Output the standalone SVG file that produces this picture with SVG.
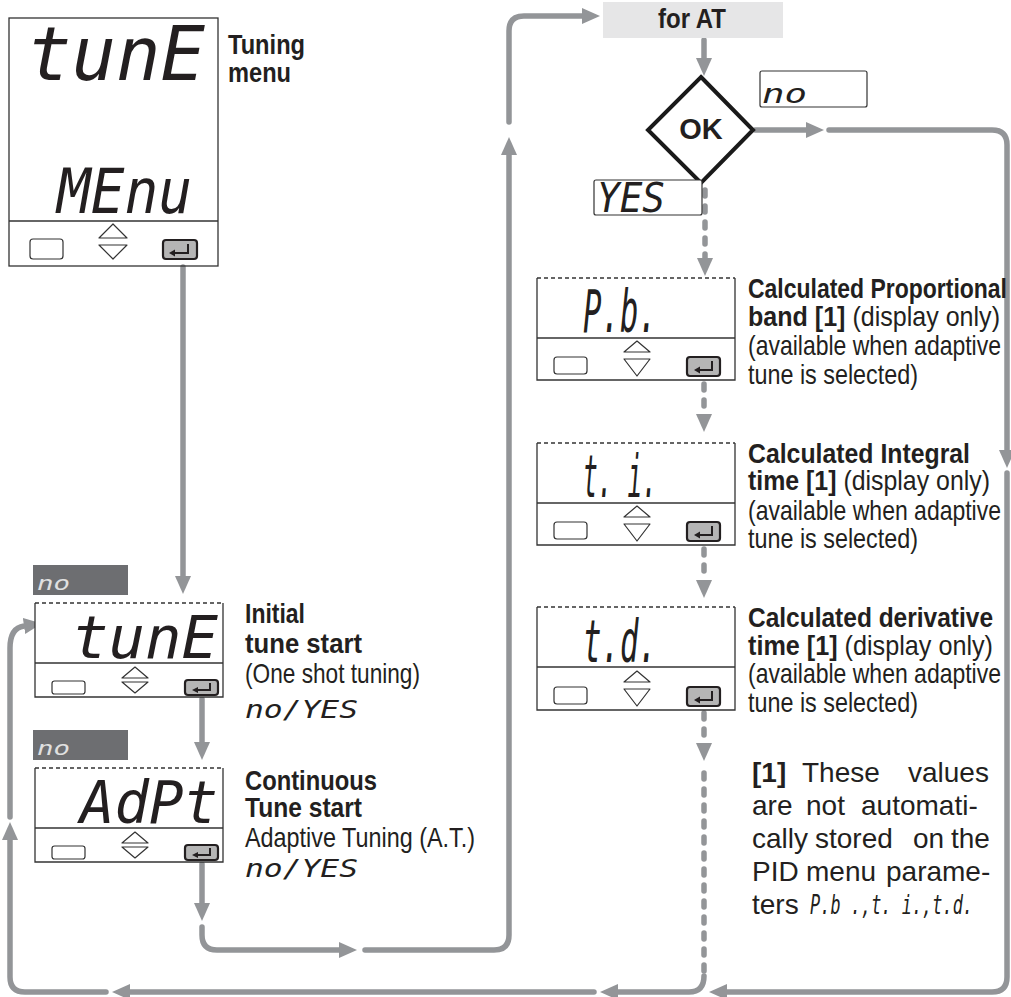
<svg xmlns="http://www.w3.org/2000/svg" width="1011" height="997" viewBox="0 0 1011 997">
<style>
.lcd{font-family:"DejaVu Sans Mono","Liberation Mono",monospace;font-style:oblique;fill:#231f20}
.nb{font-family:"Liberation Sans Narrow","Liberation Sans",Arial,sans-serif;font-weight:bold;font-size:28px;fill:#231f20}
.nr{font-family:"Liberation Sans Narrow","Liberation Sans",Arial,sans-serif;font-weight:normal;font-size:28px;fill:#231f20}
.fn{font-family:"Liberation Sans",Arial,sans-serif;font-size:28px;fill:#231f20}
.ln{fill:none;stroke:#333;stroke-width:1.3}
.dsh{stroke-dasharray:4 3}
.btn{fill:#fff;stroke:#333;stroke-width:1.2}
.ent{fill:#b5b5b5;stroke:#231f20;stroke-width:2.2}
.ico{fill:none;stroke:#231f20;stroke-width:2}
.tri{fill:#fff;stroke:#333;stroke-width:1.2;stroke-linejoin:round}
.c{fill:none;stroke:#939598;stroke-width:5.5;stroke-linecap:round;marker-end:url(#ah)}
.cn{fill:none;stroke:#939598;stroke-width:5.5;stroke-linecap:round}
.cd{stroke-dasharray:6 10}
</style>
<defs>
<marker id="ah" markerUnits="userSpaceOnUse" markerWidth="18" markerHeight="16" refX="0" refY="8" orient="auto" viewBox="0 0 18 16"><path d="M0,0 L18,8 L0,16 z" fill="#939598"/></marker>
</defs>

<g id="connectors">
<path class="c" d="M183,267 V576"/>
<path class="c" d="M202,699 V742"/>
<path class="c" d="M202,864 V903"/>
<path class="c" d="M202,927 V935 Q202,950 217,950 H339"/>
<path class="c" d="M365,950 H494 Q509,950 509,935 V155"/>
<path class="c" d="M509,122 V31 Q509,16 524,16 H582"/>
<path class="c" d="M704,40 V58"/>
<path class="c" d="M755,130 H806"/>
<path class="c" d="M829,130 H992 Q1007,130 1007,145 V450"/>
<path class="c" d="M1007,473 V977 Q1007,992 992,992 H727"/>
<path class="c cd" d="M705,190 V258"/>
<path class="c cd" d="M704,384 V414"/>
<path class="c cd" d="M704,549 V580"/>
<path class="c cd" d="M704,713 V743"/>
<path class="cn cd" d="M704,773 V975"/>
<path class="c" d="M704,976 Q704,992 689,992 H618"/>
<path class="c" d="M594,992 H130"/>
<path class="c" d="M106,992 H25 Q10,992 10,977 V840"/>
<path class="c" d="M10,817 V648 Q10,628 24,626"/>
</g>

<g id="tuning-menu">
<rect x="9" y="18" width="209" height="248" fill="#ebebeb" class="ln"/>
<path class="ln" d="M9,221 H218"/>
<text class="lcd" x="27" y="80" font-size="75" textLength="178" lengthAdjust="spacingAndGlyphs">tunE</text>
<text class="lcd" x="57" y="213" font-size="62" textLength="135" lengthAdjust="spacingAndGlyphs">MEnu</text>
<rect class="btn" x="30" y="239" width="33" height="20" rx="3"/>
<polygon class="tri" points="99,238 113,224 127,238"/>
<polygon class="tri" points="99,245 127,245 113,259"/>
<rect class="ent" x="163" y="240" width="34" height="19" rx="3"/>
<path class="ico" d="M188,244 V253 H171"/>
<polygon points="169,253 175,249.5 175,256.5" fill="#231f20"/>
<text class="nb" x="228" y="54" textLength="77" lengthAdjust="spacingAndGlyphs">Tuning</text>
<text class="nb" x="228" y="82" textLength="63" lengthAdjust="spacingAndGlyphs">menu</text>
</g>

<g id="initial-tune">
<rect x="33" y="565" width="95" height="30" fill="#6d6e71"/>
<text class="lcd" x="37" y="590" font-size="19" style="fill:#e0e0e0" textLength="33" lengthAdjust="spacingAndGlyphs">no</text>
<rect x="35" y="603" width="188" height="94" fill="#fff"/>
<path class="ln" d="M35,603 V697 H223 V603"/>
<path class="ln dsh" d="M35,603 H223"/>
<path class="ln" d="M35,663 H223"/>
<text class="lcd" x="72" y="658" font-size="59" textLength="146" lengthAdjust="spacingAndGlyphs">tunE</text>
<rect class="btn" x="52" y="681" width="33" height="13" rx="2.5"/>
<polygon class="tri" points="122,678 135,667 148,678"/>
<polygon class="tri" points="122,682 148,682 135,693"/>
<rect class="ent" x="185" y="680" width="33" height="15" rx="3"/>
<path class="ico" d="M210,683 V690 H194"/>
<polygon points="192,690 198,687 198,693" fill="#231f20"/>
<text class="nb" x="245" y="623" textLength="60" lengthAdjust="spacingAndGlyphs">Initial</text>
<text class="nb" x="245" y="653" textLength="117" lengthAdjust="spacingAndGlyphs">tune start</text>
<text class="nr" x="245" y="683" textLength="175" lengthAdjust="spacingAndGlyphs">(One shot tuning)</text>
<text class="lcd" x="245" y="718" font-size="25" textLength="113" lengthAdjust="spacingAndGlyphs">no/YES</text>
</g>

<g id="continuous-tune">
<rect x="33" y="730" width="95" height="30" fill="#6d6e71"/>
<text class="lcd" x="37" y="755" font-size="19" style="fill:#e0e0e0" textLength="33" lengthAdjust="spacingAndGlyphs">no</text>
<rect x="35" y="768" width="188" height="94" fill="#fff"/>
<path class="ln" d="M35,768 V862 H223 V768"/>
<path class="ln dsh" d="M35,768 H223"/>
<path class="ln" d="M35,828 H223"/>
<text class="lcd" x="80" y="823" font-size="59" textLength="138" lengthAdjust="spacingAndGlyphs">AdPt</text>
<rect class="btn" x="52" y="846" width="33" height="13" rx="2.5"/>
<polygon class="tri" points="122,843 135,832 148,843"/>
<polygon class="tri" points="122,847 148,847 135,858"/>
<rect class="ent" x="185" y="845" width="33" height="15" rx="3"/>
<path class="ico" d="M210,848 V855 H194"/>
<polygon points="192,855 198,852 198,858" fill="#231f20"/>
<text class="nb" x="245" y="790" textLength="132" lengthAdjust="spacingAndGlyphs">Continuous</text>
<text class="nb" x="245" y="817" textLength="117" lengthAdjust="spacingAndGlyphs">Tune  start</text>
<text class="nr" x="245" y="847" textLength="230" lengthAdjust="spacingAndGlyphs">Adaptive Tuning (A.T.)</text>
<text class="lcd" x="245" y="877" font-size="25" textLength="113" lengthAdjust="spacingAndGlyphs">no/YES</text>
</g>

<g id="for-at">
<rect x="603" y="2" width="180" height="36" fill="#e6e6e7"/>
<text class="nb" x="692" y="28" text-anchor="middle" textLength="68" lengthAdjust="spacingAndGlyphs">for AT</text>
</g>

<g id="ok-decision">
<polygon points="701,77 753,130 701,183 648,130" fill="#fff" stroke="#1a1a1a" stroke-width="4" stroke-linejoin="miter"/>
<text x="701" y="139" text-anchor="middle" font-family="Liberation Sans,Arial,sans-serif" font-weight="bold" font-size="29" fill="#231f20">OK</text>
</g>

<g id="no-label">
<rect x="760" y="71" width="107" height="36" rx="2" class="btn"/>
<text class="lcd" x="762" y="103" font-size="27" textLength="45" lengthAdjust="spacingAndGlyphs">no</text>
</g>

<g id="yes-label">
<rect x="594" y="180" width="108" height="35" rx="2" class="btn"/>
<text class="lcd" x="597" y="212" font-size="40" textLength="68" lengthAdjust="spacingAndGlyphs">YES</text>
</g>

<g id="pb">
<rect x="537" y="278" width="198" height="102" fill="#fff"/>
<path class="ln" d="M537,278 V380 H735 V278"/>
<path class="ln dsh" d="M537,278 H735"/>
<path class="ln" d="M537,338 H735"/>
<text class="lcd" x="583" y="332" font-size="59" textLength="74" lengthAdjust="spacingAndGlyphs">P.b.</text>
<rect class="btn" x="554" y="357" width="33" height="17" rx="3"/>
<polygon class="tri" points="624,352 637,341 650,352"/>
<polygon class="tri" points="624,359 650,359 637,376"/>
<rect class="ent" x="687" y="357" width="33" height="19" rx="3"/>
<path class="ico" d="M712,361 V370 H696"/>
<polygon points="694,370 700,366.5 700,373.5" fill="#231f20"/>
<text class="nb" x="748" y="298" textLength="259" lengthAdjust="spacingAndGlyphs">Calculated Proportional</text>
<text class="nb" x="748" y="326" textLength="252" lengthAdjust="spacingAndGlyphs">band [1]<tspan class="nr"> (display only)</tspan></text>
<text class="nr" x="748" y="355" textLength="253" lengthAdjust="spacingAndGlyphs">(available when adaptive</text>
<text class="nr" x="748" y="384" textLength="170" lengthAdjust="spacingAndGlyphs">tune is selected)</text>
</g>

<g id="ti">
<rect x="537" y="443" width="198" height="102" fill="#fff"/>
<path class="ln" d="M537,443 V545 H735 V443"/>
<path class="ln dsh" d="M537,443 H735"/>
<path class="ln" d="M537,503 H735"/>
<text class="lcd" x="583" y="497" font-size="59" textLength="74" lengthAdjust="spacingAndGlyphs">t. i.</text>
<rect class="btn" x="554" y="522" width="33" height="17" rx="3"/>
<polygon class="tri" points="624,517 637,506 650,517"/>
<polygon class="tri" points="624,524 650,524 637,541"/>
<rect class="ent" x="687" y="522" width="33" height="19" rx="3"/>
<path class="ico" d="M712,526 V535 H696"/>
<polygon points="694,535 700,531.5 700,538.5" fill="#231f20"/>
<text class="nb" x="748" y="463" textLength="222" lengthAdjust="spacingAndGlyphs">Calculated Integral</text>
<text class="nb" x="748" y="490" textLength="242" lengthAdjust="spacingAndGlyphs">time [1]<tspan class="nr"> (display only)</tspan></text>
<text class="nr" x="748" y="520" textLength="253" lengthAdjust="spacingAndGlyphs">(available when adaptive</text>
<text class="nr" x="748" y="548" textLength="170" lengthAdjust="spacingAndGlyphs">tune is selected)</text>
</g>

<g id="td">
<rect x="537" y="607" width="198" height="103" fill="#fff"/>
<path class="ln" d="M537,607 V710 H735 V607"/>
<path class="ln dsh" d="M537,607 H735"/>
<path class="ln" d="M537,667 H735"/>
<text class="lcd" x="583" y="662" font-size="59" textLength="74" lengthAdjust="spacingAndGlyphs">t.d.</text>
<rect class="btn" x="554" y="687" width="33" height="17" rx="3"/>
<polygon class="tri" points="624,682 637,671 650,682"/>
<polygon class="tri" points="624,689 650,689 637,706"/>
<rect class="ent" x="687" y="687" width="33" height="19" rx="3"/>
<path class="ico" d="M712,691 V700 H696"/>
<polygon points="694,700 700,696.5 700,703.5" fill="#231f20"/>
<text class="nb" x="748" y="627" textLength="245" lengthAdjust="spacingAndGlyphs">Calculated derivative</text>
<text class="nb" x="748" y="655" textLength="245" lengthAdjust="spacingAndGlyphs">time [1]<tspan class="nr"> (display only)</tspan></text>
<text class="nr" x="748" y="683" textLength="253" lengthAdjust="spacingAndGlyphs">(available when adaptive</text>
<text class="nr" x="748" y="712" textLength="170" lengthAdjust="spacingAndGlyphs">tune is selected)</text>
</g>

<g id="footnote">
<text class="fn" y="782"><tspan x="752" font-weight="bold">[1]</tspan><tspan x="802">These</tspan><tspan x="908">values</tspan></text>
<text class="fn" y="815"><tspan x="752">are</tspan><tspan x="806">not</tspan><tspan x="861">automati-</tspan></text>
<text class="fn" y="848"><tspan x="752">cally</tspan><tspan x="815">stored</tspan><tspan x="913">on</tspan><tspan x="951">the</tspan></text>
<text class="fn" y="881"><tspan x="752">PID</tspan><tspan x="806">menu</tspan><tspan x="886">parame-</tspan></text>
<text class="fn" y="914"><tspan x="752">ters</tspan></text>
<text class="lcd" x="810" y="914" font-size="26" textLength="163" lengthAdjust="spacingAndGlyphs">P.b .,t. i.,t.d.</text>
</g>
</svg>
